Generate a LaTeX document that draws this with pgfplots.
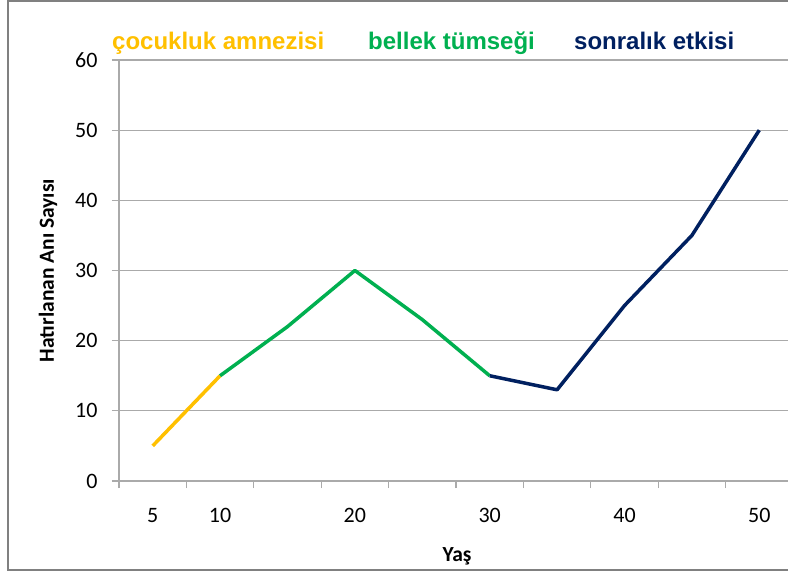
\documentclass[border=0pt]{standalone}
\usepackage{fontspec}
\setmainfont{Carlito}
\newfontfamily\arialfont{Liberation Sans}
\usepackage{pgfplots}
\pgfplotsset{compat=1.18}
\definecolor{corange}{RGB}{255,192,0}
\definecolor{cgreen}{RGB}{0,176,80}
\definecolor{cnavy}{RGB}{0,32,96}
\definecolor{gridc}{RGB}{170,170,170}
\definecolor{framec}{RGB}{128,128,128}
\begin{document}
\begin{tikzpicture}[x=1pt,y=1pt]
\useasboundingbox (0,0) rectangle (788,574);
\fill[white] (0,0) rectangle (788,574);
\draw[framec, line width=2pt] (8,4) rectangle (820,573);
\begin{axis}[
  at={(119pt,93pt)}, anchor=south west,
  scale only axis, width=674pt, height=421pt,
  xmin=-0.5, xmax=9.5, ymin=0, ymax=60,
  axis x line*=bottom, axis y line*=left,
  axis line style={gridc, line width=1.2pt},
  ytick={0,10,...,60},
  ymajorgrids, major grid style={gridc, line width=1.2pt},
  xtick={-0.5,0.5,...,9.5}, xticklabels={},
  extra x ticks={0,1,3,5,7,9},
  extra x tick labels={5,10,20,30,40,50},
  extra x tick style={major tick length=0pt, grid=none},
  tick align=outside, major tick length=7pt,
  tick style={gridc, line width=1.2pt},
  tick label style={font=\fontsize{22}{24}\selectfont, text=black},
  /pgf/number format/assume math mode=true,
  xticklabel style={yshift=-24pt},
  yticklabel style={xshift=-11pt},
  xlabel={Yaş}, ylabel={Hatırlanan Anı Sayısı},
  xlabel style={at={(axis description cs:0.5015,-0.178)}, anchor=center, font=\bfseries\fontsize{21.5}{24}\selectfont},
  ylabel style={at={(axis description cs:-0.1053,0.5)}, anchor=center, rotate=0, font=\bfseries\fontsize{21.5}{24}\selectfont},
  clip=false,
]
\addplot[corange, line width=3.5pt, line join=round] coordinates {(0,5)(1,15)};
\addplot[cgreen, line width=3.5pt, line join=round] coordinates {(1,15)(2,22)(3,30)(4,23)(5,15)};
\addplot[cnavy, line width=3.5pt, line join=round] coordinates {(5,15)(6,13)(7,25)(8,35)(9,50)};
\end{axis}
\node[inner sep=0pt, anchor=base west, text=corange, font=\arialfont\bfseries\fontsize{24}{26}\selectfont] at (112,524) {çocukluk amnezisi};
\node[inner sep=0pt, anchor=base west, text=cgreen, font=\arialfont\bfseries\fontsize{24}{26}\selectfont] at (368,524) {bellek tümseği};
\node[inner sep=0pt, anchor=base west, text=cnavy, font=\arialfont\bfseries\fontsize{24}{26}\selectfont] at (574,524) {sonralık etkisi};
\end{tikzpicture}
\end{document}
